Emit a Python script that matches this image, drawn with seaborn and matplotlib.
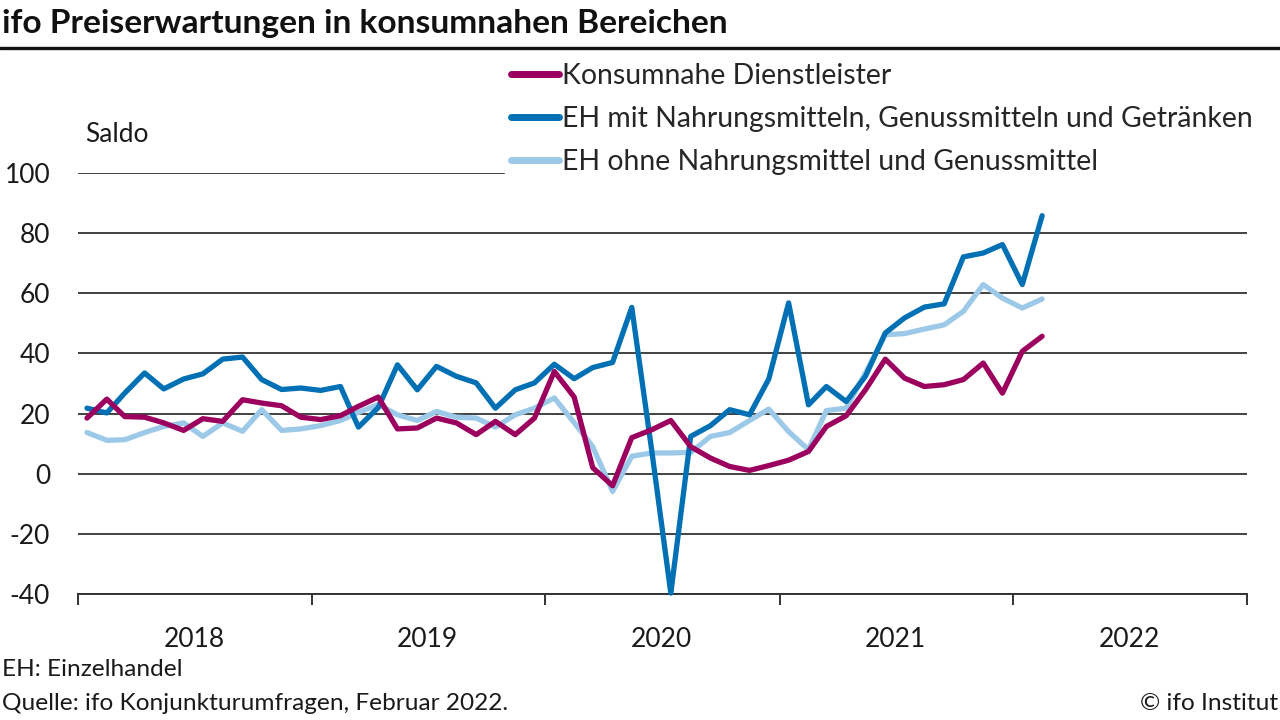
import pandas as pd
import numpy as np
import matplotlib
matplotlib.use('Agg')
import matplotlib.pyplot as plt
import matplotlib.dates as mdates
from matplotlib.lines import Line2D
import seaborn as sns

# ── Style ─────────────────────────────────────────────────────
sns.set_theme(style="white")
plt.rcParams['font.family'] = ['Lato', 'DejaVu Sans']
plt.rcParams['axes.unicode_minus'] = False

# ── Data (Saldo, Jan 2018 – Feb 2022) ─────────────────────────
months = pd.date_range("2018-01-01", periods=50, freq="MS")

dienstleister = [18.5, 24.8, 19.0, 18.8, 16.9, 14.4, 18.3, 17.4, 24.6, 23.5,
                 22.6, 18.8, 18.0, 19.3, 22.4, 25.5, 14.9, 15.2, 18.5, 16.9,
                 13.0, 17.4, 13.0, 18.5, 34.0, 25.5, 2.0, -4.0, 12.0, 14.6,
                 17.7, 9.0, 5.2, 2.4, 1.1, 2.7, 4.5, 7.4, 15.7, 19.3,
                 27.9, 38.1, 31.8, 29.0, 29.6, 31.3, 36.8, 26.8, 40.7, 45.7]

eh_mit = [21.8, 20.2, 26.8, 33.5, 28.2, 31.5, 33.2, 38.1, 38.8, 31.3,
          28.0, 28.5, 27.7, 29.0, 15.5, 22.0, 36.2, 27.9, 35.7, 32.4,
          30.2, 21.8, 27.9, 30.2, 36.4, 31.6, 35.3, 37.0, 55.3, 8.0,
          -39.7, 12.4, 16.0, 21.3, 19.6, 31.5, 56.8, 22.9, 29.0, 24.0,
          32.4, 46.8, 51.8, 55.4, 56.5, 72.1, 73.4, 76.2, 62.9, 85.8]

eh_ohne = [13.7, 11.1, 11.3, 13.7, 15.7, 16.9, 12.4, 16.9, 14.1, 21.3,
           14.4, 14.9, 16.0, 17.7, 20.4, 23.0, 19.6, 17.7, 20.7, 18.8,
           18.5, 15.5, 19.6, 21.8, 25.2, 17.0, 9.0, -5.9, 5.8, 6.9,
           6.9, 7.1, 12.4, 13.7, 17.7, 21.5, 14.0, 8.0, 21.0, 21.8,
           33.5, 46.2, 46.6, 48.1, 49.5, 54.0, 62.9, 58.4, 55.1, 58.1]

series_names = ["Konsumnahe Dienstleister",
                "EH mit Nahrungsmitteln, Genussmitteln und Getränken",
                "EH ohne Nahrungsmittel und Genussmittel"]
colors = ["#9B005F", "#0070B5", "#9DC9E8"]
years = ["2018", "2019", "2020", "2021", "2022"]

df = pd.DataFrame({
    "Monat": list(months) * 3,
    "Saldo": dienstleister + eh_mit + eh_ohne,
    "Reihe": np.repeat(series_names, len(months)),
})
df["Monat"] = df["Monat"] + pd.Timedelta(days=14)

# ── Figure ────────────────────────────────────────────────────
fig = plt.figure(figsize=(12.8, 7.2), dpi=100)
ax = fig.add_axes([78/1280, 1 - 594/720, (1247-78)/1280, (594-173)/720])

sns.lineplot(data=df, x="Monat", y="Saldo", hue="Reihe", hue_order=series_names,
             palette=dict(zip(series_names, colors)), lw=3.8, ax=ax,
             solid_capstyle='round', solid_joinstyle='round', clip_on=False)
for ln, z in zip(ax.lines, [4, 3, 2]):
    ln.set_zorder(z)

ax.set_ylim(-40, 100)
ax.set_xlim(pd.Timestamp("2018-01-01"), pd.Timestamp("2023-01-01"))
ax.set_yticks(np.arange(-40, 101, 20))
ax.yaxis.set_major_formatter(plt.FuncFormatter(lambda v, p: f"{v:.0f}"))
ax.yaxis.grid(True, color="#333333", lw=1.3)
ax.set_axisbelow(True)
ax.tick_params(axis='y', length=0, pad=20, labelsize=19, colors="#1a1a1a")

ax.xaxis.set_major_locator(mdates.YearLocator())
ax.xaxis.set_major_formatter(plt.NullFormatter())
ax.xaxis.set_minor_locator(mdates.MonthLocator(bymonth=7, bymonthday=1))
ax.xaxis.set_minor_formatter(plt.FixedFormatter(years))
ax.tick_params(axis='x', which='major', direction='out', length=8, width=1.4,
               color="#333333", bottom=True)
ax.tick_params(axis='x', which='minor', length=0, pad=24, labelsize=19,
               labelcolor="#1a1a1a")

for s in ['top', 'right', 'left']:
    ax.spines[s].set_visible(False)
ax.spines['bottom'].set_color("#333333")
ax.spines['bottom'].set_linewidth(1.4)
ax.set_xlabel("")
ax.set_ylabel("")

# ── Legend ────────────────────────────────────────────────────
handles = [Line2D([0], [0], color=c, lw=5, solid_capstyle='round') for c in colors]
leg = ax.legend(handles, series_names, loc='upper left',
                bbox_to_anchor=(505/1280, 1 - 57/720), bbox_transform=fig.transFigure,
                frameon=True, fontsize=20.4, handlelength=1.7, handletextpad=0.12,
                labelspacing=0.6, borderpad=0.2, borderaxespad=0)
leg.get_frame().set_facecolor('white')
leg.get_frame().set_edgecolor('white')
leg.get_frame().set_alpha(1)
leg.get_frame().set_boxstyle('square', pad=0)

# ── Texts ─────────────────────────────────────────────────────
fig.text(2/1280, 1 - 23/720, "ifo Preiserwartungen in konsumnahen Bereichen",
         fontsize=24.1, fontweight='bold', va='center', ha='left', color="#111111")
fig.add_artist(Line2D([0, 1], [1 - 48/720, 1 - 48/720], color="#111111", lw=2.4,
                      transform=fig.transFigure))
fig.text(85/1280, 1 - 134/720, "Saldo", fontsize=19, va='center', ha='left',
         color="#1a1a1a")
fig.text(2/1280, 1 - 670/720, "EH: Einzelhandel", fontsize=17.6, va='center',
         ha='left', color="#1a1a1a")
fig.text(2/1280, 1 - 703/720, "Quelle: ifo Konjunkturumfragen, Februar 2022.",
         fontsize=17.6, va='center', ha='left', color="#1a1a1a")
fig.text(1278/1280, 1 - 703/720, "© ifo Institut", fontsize=17.6, va='center',
         ha='right', color="#1a1a1a")

plt.savefig("out.png", dpi=100)
plt.close()
